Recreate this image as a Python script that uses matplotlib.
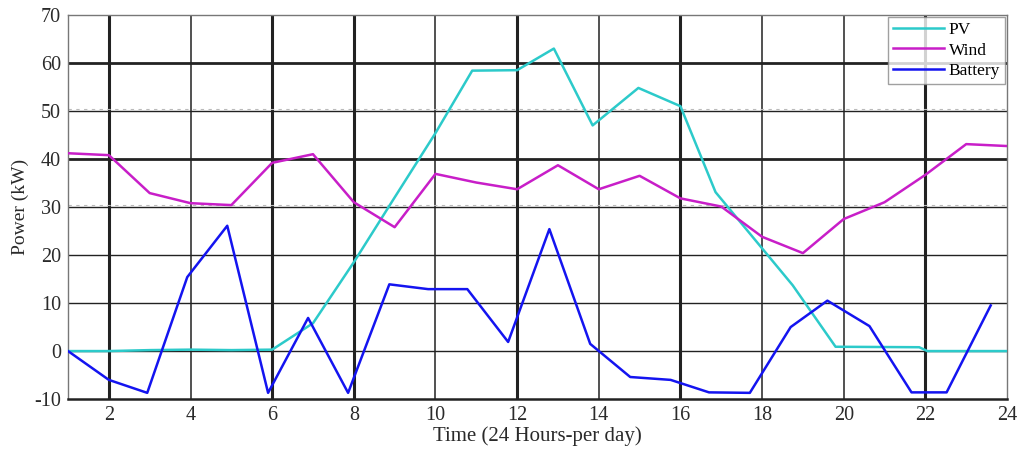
import matplotlib
matplotlib.use("Agg")
import matplotlib.pyplot as plt

# Hourly power profiles (kW)
pv_hours = [1, 2, 3, 4, 5, 6, 7, 8, 9, 10, 10.9, 12, 12.9, 13.85, 14.97, 16,
            16.86, 18.75, 19.8, 21.85, 22.05, 23, 24]
pv_power = [0, 0, 0.2, 0.3, 0.2, 0.3, 5.8, 18.5, 32, 45.4, 58.4, 58.5, 63.0, 47.0,
            54.8, 51.0, 33.1, 13.7, 0.9, 0.8, 0, 0, 0]

wind_hours = list(range(1, 25))
wind_power = [41.2, 40.8, 32.9, 30.8, 30.4, 39.2, 41.0, 31.0, 25.8, 36.9, 35.1, 33.7,
              38.7, 33.7, 36.5, 31.8, 30.1, 23.8, 20.4, 27.5, 31.0, 36.7, 43.1, 42.7]

battery_hours = [1, 2, 2.94, 3.92, 4.9, 5.9, 6.88, 7.86, 8.87, 9.82, 10.78, 11.78,
                 12.79, 13.79, 14.77, 15.76, 16.7, 17.7, 18.7, 19.6, 20.63, 21.66,
                 22.52, 23.6]
battery_power = [0, -6.0, -8.7, 15.4, 26.1, -8.7, 6.9, -8.7, 13.9, 12.9, 12.9, 1.9,
                 25.4, 1.5, -5.4, -6.0, -8.6, -8.7, 5.0, 10.5, 5.2, -8.6, -8.6, 9.5]

x_ticks = [2, 4, 6, 8, 10, 12, 14, 16, 18, 20, 22, 24]
y_ticks = [-10, 0, 10, 20, 30, 40, 50, 60, 70]

plt.rcParams["font.family"] = ["Liberation Serif", "DejaVu Serif"]
plt.rcParams["axes.unicode_minus"] = False

fig = plt.figure(figsize=(10.17, 4.53), dpi=100)
ax = fig.add_axes([0.0669, 0.119, 0.9233, 0.848])

# Grid: heavier lines at selected hours / levels
heavy_x = {2, 6, 8, 12, 16, 22}
for xv in x_ticks[:-1]:
    ax.axvline(xv, color="#222222", lw=2.2 if xv in heavy_x else 1.1, zorder=1)
heavy_y = {40, 60}
dashed_y = {30, 50}
for yv in [0, 10, 20, 30, 40, 50, 60]:
    ax.axhline(yv, color="#222222", lw=2.0 if yv in heavy_y else 1.0, zorder=1)
    if yv in dashed_y:
        ax.axhline(yv + 0.35, color="#bbbbbb", lw=0.8, ls=(0, (3, 4)), zorder=1.1)

ax.plot(pv_hours, pv_power, color="#2ccaca", lw=1.8, label="PV", zorder=3)
ax.plot(wind_hours, wind_power, color="#c81ec8", lw=1.8, label="Wind", zorder=3)
ax.plot(battery_hours, battery_power, color="#1414f0", lw=1.8, label="Battery", zorder=3)

ax.set_xlim(1, 24)
ax.set_ylim(-10, 70)
ax.set_xticks(x_ticks)
ax.set_yticks(y_ticks)
ax.tick_params(axis="both", length=0, labelsize=14.5, colors="#2a2a2a")
ax.tick_params(axis="x", pad=5)
ax.tick_params(axis="y", pad=5)

for side in ["left", "top", "right"]:
    ax.spines[side].set_color("#777777")
    ax.spines[side].set_linewidth(1.0)
ax.spines["bottom"].set_color("#222222")
ax.spines["bottom"].set_linewidth(1.8)

ax.set_xlabel("Time (24 Hours-per day)", fontsize=15, color="#2a2a2a", labelpad=1)
ax.set_ylabel("Power (kW)", fontsize=14, color="#2a2a2a", labelpad=4)

leg = ax.legend(loc="upper right", fontsize=12.5, frameon=True, fancybox=False,
                handlelength=2.9, handletextpad=0.3, borderpad=0.3,
                labelspacing=0.25, borderaxespad=0.1)
leg.get_frame().set_edgecolor("#888888")
leg.get_frame().set_linewidth(1.0)
leg.set_zorder(5)

fig.savefig("out.png", dpi=100)
